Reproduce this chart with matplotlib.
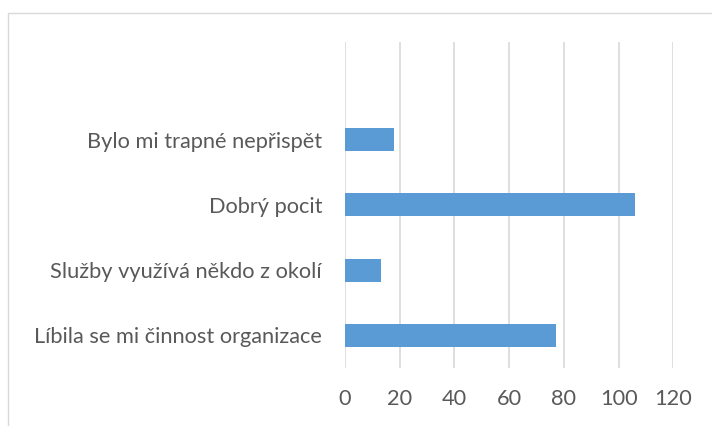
import matplotlib
matplotlib.use("Agg")
import matplotlib.pyplot as plt
from matplotlib.patches import Rectangle

categories = ["Líbila se mi činnost organizace", "Služby využívá někdo z okolí",
              "Dobrý pocit", "Bylo mi trapné nepřispět"]
values = [77, 13, 106, 18]
xticks = [0, 20, 40, 60, 80, 100, 120]

plt.rcParams['font.family'] = ['Lato', 'DejaVu Sans']
W, H = 712, 426
fig = plt.figure(figsize=(W/100, H/100), dpi=100)
ax = fig.add_axes([345/W, 1-368/H, (673.3-345)/W, (368-41.7)/H])

# chart border (extends past right/bottom edge)
fig.patches.append(Rectangle((8/W, -0.1), 1.2, (H-12.5)/H + 0.1, transform=fig.transFigure,
                             fill=False, edgecolor='#d9d9d9', linewidth=1.0))

pos = list(range(len(categories)))
ax.barh(pos, values, height=0.35, color='#5B9BD5', zorder=3)
ax.set_xlim(0, 120)
ax.set_ylim(-0.5, len(categories) + 0.5)
ax.set_xticks(xticks)
ax.set_xticklabels([str(t) for t in xticks])
ax.set_yticks(pos)
ax.set_yticklabels(categories)
ax.tick_params(length=0, labelsize=15.7, colors='#595959', labelcolor='#595959')
ax.tick_params(axis='y', pad=16.5)
ax.tick_params(axis='x', pad=15)
ax.grid(axis='x', color='#d9d9d9', linewidth=1.2, zorder=0)
for s in ax.spines.values():
    s.set_visible(False)

fig.savefig("out.png", dpi=100)
